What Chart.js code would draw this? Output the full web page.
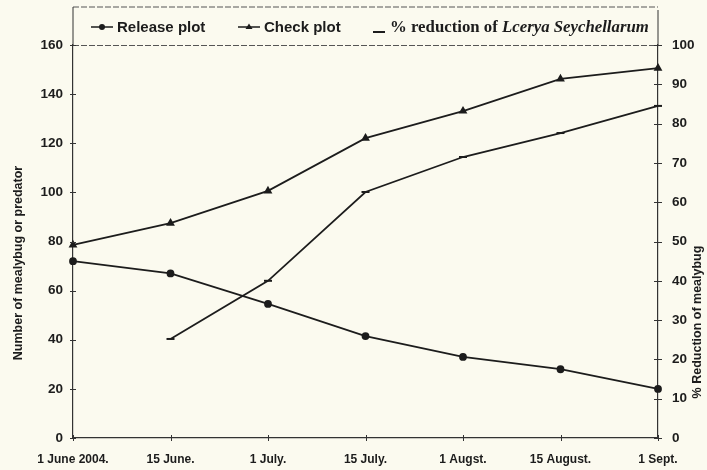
<!DOCTYPE html>
<html>
<head>
<meta charset="utf-8">
<script src="https://cdn.jsdelivr.net/npm/chart.js@4/dist/chart.umd.min.js"></script>
<style>
  body { margin: 0; background: #fbfaef; }
  canvas { display: block; }
</style>
</head>
<body>
<canvas id="grafica" width="707" height="470"></canvas>
<script>
// fechas de muestreo
const fechas = ['1 June 2004.', '15 June.', '1 July.', '15 July.', '1 Augst.', '15 August.', '1 Sept.'];
// numero de cochinillas (eje izquierdo)
const releasePlot = [72, 67, 54.6, 41.5, 33, 28, 20];
const checkPlot = [78.6, 87.5, 100.6, 122.1, 133.1, 146.2, 150.6];
// % de reduccion (eje derecho)
const reduccion = [null, 25.2, 40, 62.6, 71.5, 77.6, 84.5];
const ticksIzq = [0, 20, 40, 60, 80, 100, 120, 140, 160];
const ticksDer = [0, 10, 20, 30, 40, 50, 60, 70, 80, 90, 100];

const negro = '#1c1c1c';
const sans = '"Liberation Sans", Arial, sans-serif';
const serif = '"Liberation Serif", "Times New Roman", serif';

Chart.defaults.font.family = sans;
Chart.defaults.font.weight = 'bold';
Chart.defaults.color = negro;

// marco, marcas cruzadas, titulos y leyenda
const extras = {
  id: 'extras',
  afterDraw(chart) {
    const ctx = chart.ctx;
    const a = chart.chartArea;
    const x = chart.scales.x, y = chart.scales.y, y1 = chart.scales.y1;
    ctx.save();
    // recuadro superior
    ctx.strokeStyle = '#555';
    ctx.lineWidth = 1;
    ctx.setLineDash([6, 2]);
    ctx.beginPath();
    ctx.moveTo(a.left, 7); ctx.lineTo(a.right, 7);
    ctx.moveTo(a.left, 45.5); ctx.lineTo(a.right, 45.5);
    ctx.stroke();
    ctx.setLineDash([]);
    ctx.strokeStyle = '#333';
    ctx.beginPath();
    ctx.moveTo(a.left, 7); ctx.lineTo(a.left, a.top);
    ctx.moveTo(a.right, 10); ctx.lineTo(a.right, a.top);
    // marcas de los ejes
    ticksIzq.forEach(v => {
      const py = Math.round(y.getPixelForValue(v)) + 0.5;
      ctx.moveTo(a.left - 3, py); ctx.lineTo(a.left + 3, py);
    });
    ticksDer.forEach(v => {
      const py = Math.round(y1.getPixelForValue(v)) + 0.5;
      ctx.moveTo(a.right - 4, py); ctx.lineTo(a.right + 4, py);
    });
    fechas.forEach((f, i) => {
      const px = Math.round(x.getPixelForValue(i)) + 0.5;
      ctx.moveTo(px, a.bottom - 3); ctx.lineTo(px, a.bottom + 3);
    });
    ctx.stroke();

    // titulos de ejes
    ctx.fillStyle = negro;
    ctx.font = 'bold 12.5px ' + sans;
    ctx.textAlign = 'center';
    ctx.textBaseline = 'middle';
    ctx.save();
    ctx.translate(19, 263);
    ctx.rotate(-Math.PI / 2);
    ctx.fillText('Number of mealybug or predator', 0, 0);
    ctx.restore();
    ctx.save();
    ctx.translate(698, 322);
    ctx.rotate(-Math.PI / 2);
    ctx.fillText('% Reduction of mealybug', 0, 0);
    ctx.restore();

    // leyenda
    ctx.strokeStyle = negro;
    ctx.lineWidth = 1.6;
    ctx.beginPath();
    ctx.moveTo(91, 27); ctx.lineTo(113, 27);
    ctx.moveTo(238, 27); ctx.lineTo(260, 27);
    ctx.stroke();
    ctx.beginPath();
    ctx.arc(102, 27, 3, 0, Math.PI * 2);
    ctx.fill();
    ctx.beginPath();
    ctx.moveTo(249, 23.5); ctx.lineTo(252.5, 29); ctx.lineTo(245.5, 29);
    ctx.closePath();
    ctx.fill();
    ctx.lineWidth = 2;
    ctx.beginPath();
    ctx.moveTo(373, 32); ctx.lineTo(385, 32);
    ctx.stroke();
    ctx.textAlign = 'left';
    ctx.font = 'bold 15px ' + sans;
    ctx.fillText('Release plot', 117, 28);
    ctx.fillText('Check plot', 264, 28);
    ctx.textBaseline = 'alphabetic';
    ctx.font = 'bold 16.8px ' + serif;
    const parte1 = '% reduction of ';
    ctx.fillText(parte1, 390, 32);
    const w = ctx.measureText(parte1).width;
    ctx.font = 'italic bold 16.8px ' + serif;
    ctx.fillText('Lcerya Seychellarum', 390 + w, 32);
    ctx.restore();
  }
};

const grafica = document.getElementById('grafica').getContext('2d');
const myChart = new Chart(grafica, {
  type: 'line',
  data: {
    labels: fechas,
    datasets: [
      {
        label: 'Release plot',
        data: releasePlot,
        yAxisID: 'y',
        borderColor: negro,
        backgroundColor: negro,
        borderWidth: 1.8,
        pointStyle: 'circle',
        pointRadius: 3,
        clip: false
      },
      {
        label: 'Check plot',
        data: checkPlot,
        yAxisID: 'y',
        borderColor: negro,
        backgroundColor: negro,
        borderWidth: 1.8,
        pointStyle: 'triangle',
        pointRadius: 3.3,
        clip: false
      },
      {
        label: '% reduction of Lcerya Seychellarum',
        data: reduccion,
        yAxisID: 'y1',
        borderColor: negro,
        backgroundColor: negro,
        borderWidth: 1.8,
        pointStyle: 'line',
        pointRadius: 4,
        pointBorderWidth: 2,
        clip: false
      }
    ]
  },
  options: {
    responsive: false,
    animation: false,
    layout: { padding: { top: 45 } },
    plugins: {
      legend: { display: false },
      tooltip: { enabled: false }
    },
    scales: {
      x: {
        offset: false,
        grid: { display: false, drawTicks: false },
        border: { display: true, color: '#333', width: 1.2 },
        ticks: { padding: 14, maxRotation: 0, autoSkip: false, font: { size: 12 } },
        afterFit: (s) => { s.height = 32; }
      },
      y: {
        position: 'left',
        min: 0,
        max: 160,
        grid: { display: false, drawTicks: false },
        border: { display: true, color: '#333', width: 1.2 },
        ticks: { stepSize: 20, padding: 10, font: { size: 13.5 } },
        afterFit: (s) => { s.width = 73; }
      },
      y1: {
        position: 'right',
        min: 0,
        max: 100,
        grid: { display: false, drawTicks: false },
        border: { display: true, color: '#333', width: 1.2 },
        ticks: { stepSize: 10, padding: 14, font: { size: 13.5 } },
        afterFit: (s) => { s.width = 49; }
      }
    }
  },
  plugins: [extras]
});
</script>
</body>
</html>
